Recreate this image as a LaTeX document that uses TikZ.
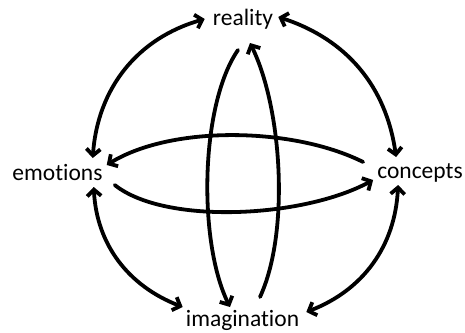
\documentclass[tikz,border=0pt]{standalone}
\usepackage{fontspec}
\setmainfont{Carlito}[Ligatures={NoCommon}]
\usetikzlibrary{arrows.meta,calc}
\begin{document}
\begin{tikzpicture}[x=1pt,y=-1pt,
  lbl/.style={inner sep=0pt,anchor=base,font=\fontsize{23.5}{28}\selectfont},
  conn/.style={line width=3.8pt,line cap=round,
    arrows={Straight Barb[length=6.5pt,width=14pt]-Straight Barb[length=6.5pt,width=14pt]}},
  half/.style={line width=3.8pt,line cap=round,
    -{Straight Barb[length=6.5pt,width=14pt]}}]
\useasboundingbox[fill=white] (0,0) rectangle (465,332);
\node[lbl] (reality) at (243,25) {reality};
\node[lbl] (emotions) at (57.5,180) {emotions};
\node[lbl] (concepts) at (420,178) {concepts};
\node[lbl] (imagination) at (242.5,326) {imagination};
% outer arcs
\draw[conn] ($(reality.base west)+(-8,-6)$) .. controls +(-67,19) and +(5,-70) .. ($(emotions.base east)+(-10,-22)$);
\draw[conn] ($(reality.base east)+(5,-8)$) .. controls +(68,22) and +(-10,-71) .. ($(concepts.base west)+(19,-21)$);
\draw[conn] ($(emotions.base east)+(-9,7)$) .. controls +(3,58) and +(-54,-21) .. ($(imagination.base west)+(-3,-19)$);
\draw[conn] ($(concepts.base west)+(21,7)$) .. controls +(-3,61) and +(57,-22) .. ($(imagination.base east)+(7,-14)$);
% horizontal ellipse
\draw[half] ($(concepts.base west)+(-14,-16)$) .. controls +(-70,-35) and +(65,-40) .. ($(emotions.base east)+(4,-15)$);
\draw[half] ($(emotions.base east)+(12,5)$) .. controls +(50,40) and +(-70,38) .. ($(concepts.base west)+(-4,2)$);
% vertical ellipse
\draw[half] ($(reality.base)+(-5,25)$) .. controls +(-38,55) and +(-32,-65) .. ($(imagination.base)+(-12.5,-19)$);
\draw[half] ($(imagination.base)+(17.5,-29)$) .. controls +(30,-65) and +(32,65) .. ($(reality.base)+(7,18)$);
\end{tikzpicture}
\end{document}
